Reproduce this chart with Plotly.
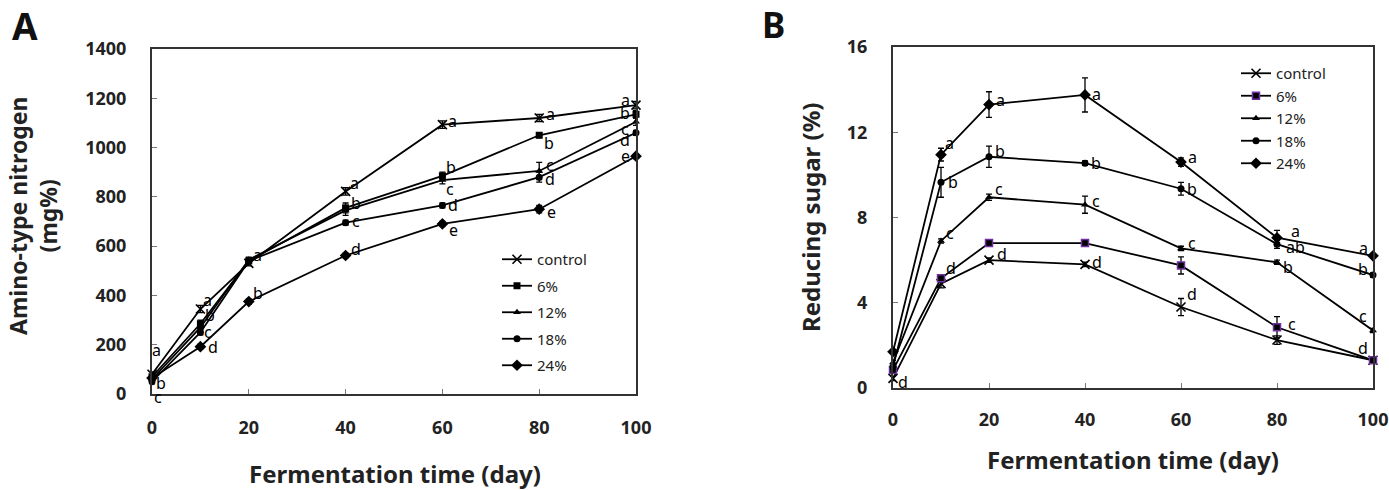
import plotly.graph_objects as go

# ---------------- data ----------------
days = [0, 10, 20, 40, 60, 80, 100]
series_names = ["control", "6%", "12%", "18%", "24%"]

# Panel A: amino-type nitrogen (mg%)
amino_control = [80, 345, 530, 822, 1093, 1120, 1172]
amino_6 = [70, 285, 540, 755, 885, 1050, 1135]
amino_12 = [60, 270, 545, 745, 868, 905, 1105]
amino_18 = [50, 250, 540, 695, 765, 880, 1060]
amino_24 = [65, 192, 375, 562, 690, 750, 965]
amino_err_control = [10, 15, 10, 15, 15, 15, 15]
amino_err_6 = [8, 15, 10, 20, 15, 10, 15]
amino_err_12 = [8, 15, 10, 20, 15, 35, 15]
amino_err_18 = [8, 10, 10, 10, 10, 20, 10]
amino_err_24 = [8, 10, 10, 10, 10, 15, 10]
amino_letters_control = ["a", "a", "a", "a", "a", "a", "a"]
amino_letters_6 = ["b", "b", "", "b", "b", "b", "b"]
amino_letters_12 = ["c", "c", "", "", "c", "c", "c"]
amino_letters_18 = ["", "", "", "c", "d", "d", "d"]
amino_letters_24 = ["", "d", "b", "d", "e", "e", "e"]

# Panel B: reducing sugar (%)
sugar_control = [0.45, 4.9, 6.0, 5.8, 3.8, 2.25, 1.3]
sugar_6 = [0.85, 5.15, 6.8, 6.8, 5.75, 2.85, 1.3]
sugar_12 = [1.2, 6.9, 8.95, 8.6, 6.55, 5.9, 2.7]
sugar_18 = [1.0, 9.65, 10.85, 10.55, 9.35, 6.75, 5.3]
sugar_24 = [1.7, 10.95, 13.3, 13.75, 10.6, 7.05, 6.2]
sugar_err_control = [0.1, 0.2, 0.1, 0.1, 0.4, 0.2, 0.1]
sugar_err_6 = [0.1, 0.15, 0.15, 0.1, 0.4, 0.5, 0.1]
sugar_err_12 = [0.1, 0.1, 0.15, 0.4, 0.1, 0.1, 0.1]
sugar_err_18 = [0.1, 0.7, 0.5, 0.1, 0.3, 0.2, 0.1]
sugar_err_24 = [0.1, 0.3, 0.6, 0.8, 0.2, 0.35, 0.1]
sugar_letters_control = ["d", "", "d", "d", "d", "", "d"]
sugar_letters_6 = ["", "d", "", "", "", "c", ""]
sugar_letters_12 = ["", "c", "c", "c", "c", "b", "c"]
sugar_letters_18 = ["", "b", "b", "b", "b", "ab", "b"]
sugar_letters_24 = ["", "a", "a", "a", "a", "a", "a"]

# text labels
panel_labels = ["A", "B"]
x_title = "Fermentation time (day)"
y_title_a = "Amino-type nitrogen<br>(mg%)"
y_title_b = "Reducing sugar (%)"

amino = [amino_control, amino_6, amino_12, amino_18, amino_24]
amino_err = [amino_err_control, amino_err_6, amino_err_12, amino_err_18, amino_err_24]
amino_letters = [amino_letters_control, amino_letters_6, amino_letters_12, amino_letters_18, amino_letters_24]
sugar = [sugar_control, sugar_6, sugar_12, sugar_18, sugar_24]
sugar_err = [sugar_err_control, sugar_err_6, sugar_err_12, sugar_err_18, sugar_err_24]
sugar_letters = [sugar_letters_control, sugar_letters_6, sugar_letters_12, sugar_letters_18, sugar_letters_24]

# ---------------- styles ----------------
FONT = "Noto Sans"
W, H = 1389, 490
symbols = ["x-thin", "square", "triangle-up", "circle", "diamond"]
sizes = [9, 7, 7, 7, 9]

def marker_style(i, panel):
    if i == 0:
        return dict(symbol="x-thin", size=9, color="black", line=dict(color="black", width=1.6))
    if i == 1 and panel == "B":
        return dict(symbol="square", size=7, color="black", line=dict(color="#7030A0", width=1.5))
    return dict(symbol=symbols[i], size=sizes[i], color="black", line=dict(width=0))

fig = go.Figure()

for panel, data, errs, xa, ya, leg in [
    ("A", amino, amino_err, "x", "y", "legend"),
    ("B", sugar, sugar_err, "x2", "y2", "legend2"),
]:
    for i, name in enumerate(series_names):
        fig.add_trace(go.Scatter(
            x=days, y=data[i], name=name, mode="lines+markers",
            line=dict(color="black", width=1.8),
            marker=marker_style(i, panel),
            error_y=dict(type="data", array=errs[i], color="black", thickness=1.3, width=3),
            xaxis=xa, yaxis=ya, legend=leg, legendgroup=panel + name,
            cliponaxis=False,
        ))

# letter offsets (style only): (xshift, yshift)
off_A = {
    (0, 0): (4, 24), (1, 0): (9, -6), (2, 0): (6, -18),
    (0, 1): (7, 9), (1, 1): (10, 9), (2, 1): (8, -5), (4, 1): (13, 0),
    (0, 2): (9, 8), (4, 2): (9, 9),
    (0, 3): (9, 8), (1, 3): (10, 5), (3, 3): (10, 2), (4, 3): (10, 7),
    (0, 4): (10, 4), (1, 4): (9, 9), (2, 4): (8, -9), (3, 4): (11, 0), (4, 4): (11, -6),
    (0, 5): (11, 4), (1, 5): (10, -8), (2, 5): (11, 6), (3, 5): (11, -2), (4, 5): (12, -3),
    (0, 6): (-11, 5), (1, 6): (-11, 1), (2, 6): (-11, -7), (3, 6): (-11, -7), (4, 6): (-11, 0),
}
off_B = {
    (0, 0): (10, -4),
    (4, 1): (8, 12), (3, 1): (12, 0), (2, 1): (9, 8), (1, 1): (10, 10),
    (4, 2): (11, 5), (3, 2): (11, 6), (2, 2): (10, 8), (0, 2): (13, 6),
    (4, 3): (11, 1), (3, 3): (11, 0), (2, 3): (11, 4), (0, 3): (12, 2),
    (4, 4): (11, 5), (3, 4): (11, 0), (2, 4): (11, 5), (0, 4): (11, 13),
    (4, 5): (18, 7), (3, 5): (18, -3), (2, 5): (11, -5), (1, 5): (15, 3),
    (4, 6): (-10, 8), (3, 6): (-10, 6), (2, 6): (-10, 14), (0, 6): (-10, 12),
}

annotations = []
for data, letters, offs, xr, yr in [
    (amino, amino_letters, off_A, "x", "y"),
    (sugar, sugar_letters, off_B, "x2", "y2"),
]:
    for i in range(len(series_names)):
        for j, d in enumerate(days):
            t = letters[i][j]
            if not t:
                continue
            xs, ys = offs.get((i, j), (9, 8))
            annotations.append(dict(
                x=d, y=data[i][j], xref=xr, yref=yr, text=t, showarrow=False,
                xshift=xs, yshift=ys, font=dict(family=FONT, size=16, color="black"),
            ))

def px(xp, yp):
    return xp / W, 1 - yp / H

for (cx, cy), txt, size, ang in [
    (px(25, 26), "<b>%s</b>" % panel_labels[0], 37, 0),
    (px(773, 24), "<b>%s</b>" % panel_labels[1], 35, 0),
    (px(395, 473), x_title, 24, 0),
    (px(1133, 459), x_title, 24, 0),
    (px(33, 216), y_title_a, 23, -90),
    (px(810, 217), y_title_b, 24, -90),
]:
    annotations.append(dict(
        x=cx, y=cy, xref="paper", yref="paper", text=txt, showarrow=False,
        xanchor="center", yanchor="middle", textangle=ang,
        font=dict(family=FONT, size=size, color="#111" if size > 30 else "#222", weight="bold"),
    ))

axis_common = dict(
    showline=True, linecolor="#333", linewidth=2, mirror=True,
    ticks="inside", ticklen=5, tickcolor="#777", tickwidth=1,
    showgrid=False, zeroline=False, automargin=False,
    tickfont=dict(family=FONT, size=18, color="#222", weight="bold"),
)

fig.update_layout(
    width=W, height=H,
    margin=dict(l=0, r=0, t=0, b=0),
    paper_bgcolor="white", plot_bgcolor="white",
    xaxis=dict(domain=[152 / W, 636 / W], range=[0, 100], dtick=20, anchor="y", ticklabelstandoff=16, **axis_common),
    yaxis=dict(domain=[1 - 394 / H, 1 - 49 / H], range=[0, 1400], dtick=200, anchor="x", ticklabelstandoff=20, **axis_common),
    xaxis2=dict(domain=[893 / W, 1373 / W], range=[0, 100], dtick=20, anchor="y2", ticklabelstandoff=14, **axis_common),
    yaxis2=dict(domain=[1 - 388 / H, 1 - 47 / H], range=[0, 16], dtick=4, anchor="x2", ticklabelstandoff=20, **axis_common),
    legend=dict(x=497 / W, y=1 - 243 / H, xanchor="left", yanchor="top", bgcolor="rgba(0,0,0,0)",
                font=dict(family=FONT, size=15, color="#222"), traceorder="grouped",
                tracegroupgap=4, itemwidth=30),
    legend2=dict(x=1236 / W, y=1 - 57 / H, xanchor="left", yanchor="top", bgcolor="rgba(0,0,0,0)",
                 font=dict(family=FONT, size=15, color="#222"), traceorder="grouped",
                 tracegroupgap=0, itemwidth=30),
    annotations=annotations,
    showlegend=True,
)

fig.write_html("out.html")
